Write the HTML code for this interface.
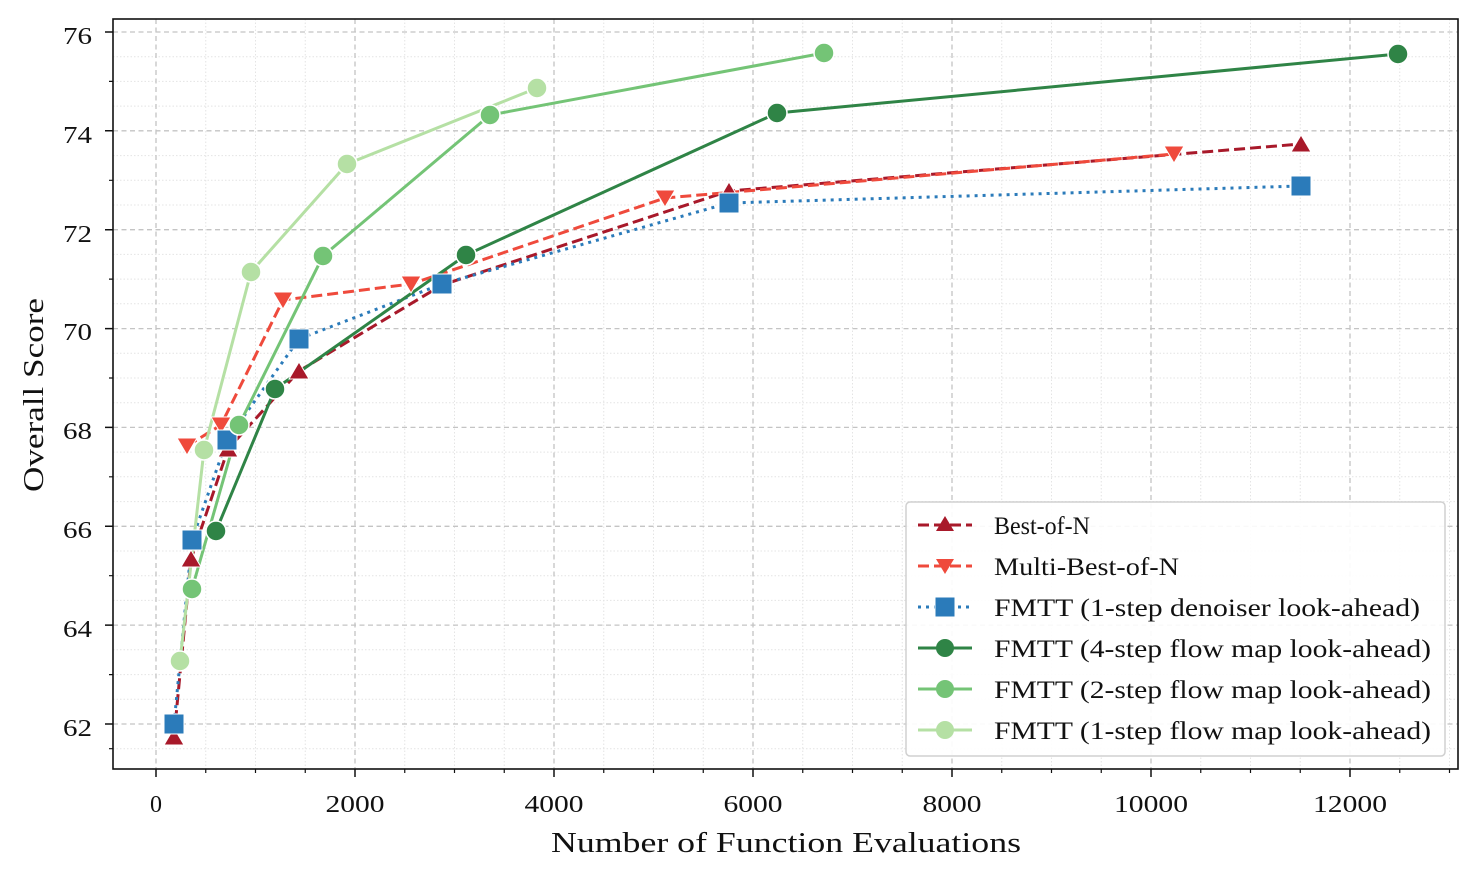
<!DOCTYPE html>
<html><head><meta charset="utf-8"><style>
html,body{margin:0;padding:0;background:#fff}
svg{display:block}
text{font-family:"Liberation Serif",serif;fill:#111}
</style></head><body>
<svg width="1478" height="878" xmlns="http://www.w3.org/2000/svg">
<rect width="1478" height="878" fill="#fff"/>
<path d="M205.75 19V769M255.5 19V769M305.25 19V769M404.75 19V769M454.5 19V769M504.25 19V769M603.75 19V769M653.5 19V769M703.25 19V769M802.75 19V769M852.5 19V769M902.25 19V769M1001.75 19V769M1051.5 19V769M1101.25 19V769M1200.75 19V769M1250.5 19V769M1300.25 19V769M1399.75 19V769M1449.5 19V769
M113 748.7H1458M113 699.3H1458M113 674.6H1458M113 649.8H1458M113 600.4H1458M113 575.7H1458M113 551H1458M113 501.6H1458M113 476.8H1458M113 452.1H1458M113 402.7H1458M113 378H1458M113 353.3H1458M113 303.8H1458M113 279.1H1458M113 254.4H1458M113 205H1458M113 180.3H1458M113 155.6H1458M113 106.1H1458M113 81.4H1458M113 56.7H1458" stroke="#e4e4e4" stroke-width="1" stroke-dasharray="1.5,2" fill="none"/>
<path d="M156 19V769M355 19V769M554 19V769M753 19V769M952 19V769M1151 19V769M1350 19V769
M113 724H1458M113 625.1H1458M113 526.3H1458M113 427.4H1458M113 328.6H1458M113 229.7H1458M113 130.8H1458M113 32H1458" stroke="#c4c4c4" stroke-width="1.3" stroke-dasharray="5,3.5" fill="none"/>
<g fill="none" stroke-width="3">
<polyline points="174,737 191,559 228,449 299,371 442,285 729,191 1301,144" stroke="#a8192a" stroke-dasharray="11,5"/>
<polyline points="187,446 221,425 283,300 411,284 665,198 1174,154" stroke="#ef4a3c" stroke-dasharray="11,5"/>
<polyline points="174,724 192,540 227,440 299,339 442,284 729,203 1301,186" stroke="#2b7bba" stroke-dasharray="3,5"/>
<polyline points="216,531 275,389 466,255 777,113 1398,54" stroke="#2f8446"/>
<polyline points="192,589 239,425 323,256 490,115 824,53" stroke="#74c476"/>
<polyline points="180,661 204,450 251,272 347,164 537,88" stroke="#b5e0a4"/>
</g>
<g fill="#a8192a" stroke="#fff" stroke-width="1">
<path d="M174 728l10 17h-20z"/><path d="M191 550l10 17h-20z"/><path d="M228 440l10 17h-20z"/><path d="M299 362l10 17h-20z"/><path d="M442 276l10 17h-20z"/><path d="M729 182l10 17h-20z"/><path d="M1301 135l10 17h-20z"/>
</g>
<g fill="#ef4a3c" stroke="#fff" stroke-width="1">
<path d="M187 455l10-17h-20z"/><path d="M221 434l10-17h-20z"/><path d="M283 309l10-17h-20z"/><path d="M411 293l10-17h-20z"/><path d="M665 207l10-17h-20z"/><path d="M1174 163l10-17h-20z"/>
</g>
<g fill="#2b7bba" stroke="#fff" stroke-width="1">
<rect x="164" y="714" width="20" height="20"/><rect x="182" y="530" width="20" height="20"/><rect x="217" y="430" width="20" height="20"/><rect x="289" y="329" width="20" height="20"/><rect x="432" y="274" width="20" height="20"/><rect x="719" y="193" width="20" height="20"/><rect x="1291" y="176" width="20" height="20"/>
</g>
<g fill="#2f8446" stroke="#fff" stroke-width="1.5">
<circle cx="216" cy="531" r="10"/><circle cx="275" cy="389" r="10"/><circle cx="466" cy="255" r="10"/><circle cx="777" cy="113" r="10"/><circle cx="1398" cy="54" r="10"/>
</g>
<g fill="#74c476" stroke="#fff" stroke-width="1.5">
<circle cx="192" cy="589" r="10"/><circle cx="239" cy="425" r="10"/><circle cx="323" cy="256" r="10"/><circle cx="490" cy="115" r="10"/><circle cx="824" cy="53" r="10"/>
</g>
<g fill="#b5e0a4" stroke="#fff" stroke-width="1.5">
<circle cx="180" cy="661" r="10"/><circle cx="204" cy="450" r="10"/><circle cx="251" cy="272" r="10"/><circle cx="347" cy="164" r="10"/><circle cx="537" cy="88" r="10"/>
</g>
<rect x="113" y="19" width="1345" height="750" fill="none" stroke="#111" stroke-width="1.6"/>
<path d="M156 769v8M355 769v8M554 769v8M753 769v8M952 769v8M1151 769v8M1350 769v8M113 724h-8M113 625.1h-8M113 526.3h-8M113 427.4h-8M113 328.6h-8M113 229.7h-8M113 130.8h-8M113 32h-8" stroke="#111" stroke-width="1.5"/>
<path d="M205.75 769v4M255.5 769v4M305.25 769v4M404.75 769v4M454.5 769v4M504.25 769v4M603.75 769v4M653.5 769v4M703.25 769v4M802.75 769v4M852.5 769v4M902.25 769v4M1001.75 769v4M1051.5 769v4M1101.25 769v4M1200.75 769v4M1250.5 769v4M1300.25 769v4M1399.75 769v4M1449.5 769v4
M113 748.7h-4M113 674.6h-4M113 575.7h-4M113 476.8h-4M113 378h-4M113 279.1h-4M113 180.3h-4M113 81.4h-4" stroke="#111" stroke-width="1.2"/>
<g font-size="24" text-anchor="middle" lengthAdjust="spacingAndGlyphs">
<text x="156" y="812">0</text>
<text x="355" y="812" textLength="59" lengthAdjust="spacingAndGlyphs">2000</text>
<text x="554" y="812" textLength="59" lengthAdjust="spacingAndGlyphs">4000</text>
<text x="753" y="812" textLength="59" lengthAdjust="spacingAndGlyphs">6000</text>
<text x="952" y="812" textLength="59" lengthAdjust="spacingAndGlyphs">8000</text>
<text x="1151" y="812" textLength="74" lengthAdjust="spacingAndGlyphs">10000</text>
<text x="1350" y="812" textLength="74" lengthAdjust="spacingAndGlyphs">12000</text>
</g>
<g font-size="24" text-anchor="end">
<text x="92" y="736" textLength="29" lengthAdjust="spacingAndGlyphs">62</text>
<text x="92" y="637" textLength="29" lengthAdjust="spacingAndGlyphs">64</text>
<text x="92" y="538" textLength="29" lengthAdjust="spacingAndGlyphs">66</text>
<text x="92" y="439" textLength="29" lengthAdjust="spacingAndGlyphs">68</text>
<text x="92" y="340" textLength="29" lengthAdjust="spacingAndGlyphs">70</text>
<text x="92" y="242" textLength="29" lengthAdjust="spacingAndGlyphs">72</text>
<text x="92" y="143" textLength="29" lengthAdjust="spacingAndGlyphs">74</text>
<text x="92" y="44" textLength="29" lengthAdjust="spacingAndGlyphs">76</text>
</g>
<text x="551" y="852" font-size="28" textLength="470" lengthAdjust="spacingAndGlyphs">Number of Function Evaluations</text>
<text transform="translate(43,492) rotate(-90)" font-size="28" textLength="194" lengthAdjust="spacingAndGlyphs">Overall Score</text>
<rect x="906" y="502" width="539" height="254" rx="4" fill="#fff" fill-opacity="0.9" stroke="#d0d0d0" stroke-width="1.5"/>
<g stroke-width="3" fill="none">
<path d="M918 525h54" stroke="#a8192a" stroke-dasharray="11,5"/>
<path d="M918 566h54" stroke="#ef4a3c" stroke-dasharray="11,5"/>
<path d="M918 607h54" stroke="#2b7bba" stroke-dasharray="3,5"/>
<path d="M918 648h54" stroke="#2f8446"/>
<path d="M918 689h54" stroke="#74c476"/>
<path d="M918 730h54" stroke="#b5e0a4"/>
</g>
<path d="M945 516l9 15h-18z" fill="#a8192a"/>
<path d="M945 574l9-15h-18z" fill="#ef4a3c"/>
<rect x="935" y="597" width="20" height="20" fill="#2b7bba" stroke="#fff"/>
<circle cx="945" cy="648" r="9" fill="#2f8446"/>
<circle cx="945" cy="689" r="9" fill="#74c476"/>
<circle cx="945" cy="730" r="9" fill="#b5e0a4"/>
<g font-size="25">
<text x="994" y="534" textLength="96" lengthAdjust="spacingAndGlyphs">Best-of-N</text>
<text x="994" y="575" textLength="185" lengthAdjust="spacingAndGlyphs">Multi-Best-of-N</text>
<text x="994" y="616" textLength="426" lengthAdjust="spacingAndGlyphs">FMTT (1-step denoiser look-ahead)</text>
<text x="994" y="657" textLength="437" lengthAdjust="spacingAndGlyphs">FMTT (4-step flow map look-ahead)</text>
<text x="994" y="698" textLength="437" lengthAdjust="spacingAndGlyphs">FMTT (2-step flow map look-ahead)</text>
<text x="994" y="739" textLength="437" lengthAdjust="spacingAndGlyphs">FMTT (1-step flow map look-ahead)</text>
</g>
</svg>
</body></html>
